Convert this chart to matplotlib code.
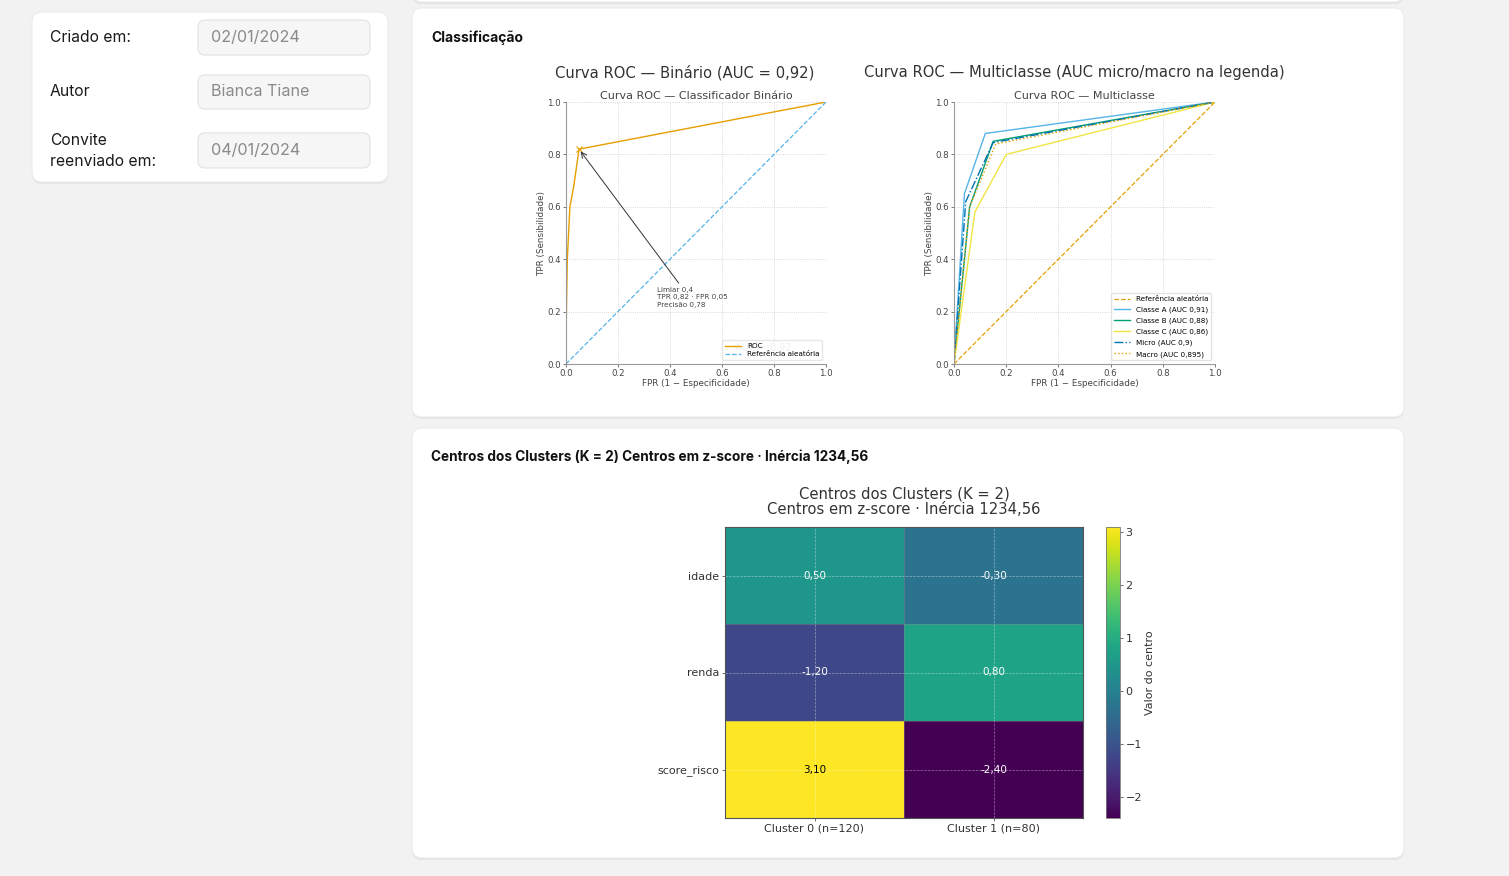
import numpy as np
import matplotlib.pyplot as plt
from matplotlib.patches import FancyBboxPatch

# ---- data ----
bin_fpr = [0.0, 0.0, 0.005, 0.015, 0.03, 0.05, 1.0]
bin_tpr = [0.0, 0.10, 0.40, 0.60, 0.68, 0.82, 1.0]
bin_auc = "0,92"

mc_names = ["Classe A (AUC 0,91)", "Classe B (AUC 0,88)", "Classe C (AUC 0,86)",
            "Micro (AUC 0,9)", "Macro (AUC 0,895)"]
mc_fpr = [[0.0, 0.04, 0.12, 1.0],
          [0.0, 0.06, 0.15, 1.0],
          [0.0, 0.08, 0.20, 1.0],
          [0.0, 0.045, 0.15, 1.0],
          [0.0, 0.06, 0.16, 1.0]]
mc_tpr = [[0.0, 0.65, 0.88, 1.0],
          [0.0, 0.60, 0.85, 1.0],
          [0.0, 0.58, 0.80, 1.0],
          [0.0, 0.62, 0.845, 1.0],
          [0.0, 0.60, 0.84, 1.0]]

features = ["idade", "renda", "score_risco"]
clusters = ["Cluster 0 (n=120)", "Cluster 1 (n=80)"]
centers = np.array([[0.50, -0.30],
                    [-1.20, 0.80],
                    [3.10, -2.40]])

field_labels = ["Criado em:", "Autor", "Convite\nreenviado em:"]
field_values = ["02/01/2024", "Bianca Tiane", "04/01/2024"]

# ---- figure / page background ----
W, H = 1509, 876
fig = plt.figure(figsize=(W / 100, H / 100), dpi=100, facecolor="#f2f2f2")
bg = fig.add_axes([0, 0, 1, 1])
bg.set_xlim(0, W)
bg.set_ylim(H, 0)
bg.axis("off")


def px_axes(x0, y0, x1, y1):
    return fig.add_axes([x0 / W, 1 - y1 / H, (x1 - x0) / W, (y1 - y0) / H])


def card(x0, y0, x1, y1, r=10):
    bg.add_patch(FancyBboxPatch((x0, y0 + 2), x1 - x0, y1 - y0,
                                boxstyle=f"round,pad=0,rounding_size={r}",
                                fc="#e4e4e4", ec="none"))
    bg.add_patch(FancyBboxPatch((x0, y0), x1 - x0, y1 - y0,
                                boxstyle=f"round,pad=0,rounding_size={r}",
                                fc="white", ec="#ebebeb", lw=0.8))


card(412, -30, 1404, 2)
card(32, 12, 388, 182)
card(412, 8, 1404, 417)
card(412, 428, 1404, 858)

# left info card
label_y = [38, 92, 151]
box_y = [(20, 55), (75, 109), (133, 168)]
for lab, val, ly, (b0, b1) in zip(field_labels, field_values, label_y, box_y):
    bg.text(50, ly, lab, fontsize=11.3, family="Inter", color="#1a1a1a",
            va="center", linespacing=1.45)
    bg.add_patch(FancyBboxPatch((198, b0), 172, b1 - b0,
                                boxstyle="round,pad=0,rounding_size=7",
                                fc="#f6f6f6", ec="#e2e2e2", lw=0.8))
    bg.text(211, (b0 + b1) / 2, val, fontsize=11.6, family="Inter",
            color="#8a8a8a", va="center")

# card headers
bg.text(431, 38, "Classificação", fontsize=10, family="Inter",
        weight="bold", color="#111", va="center")
bg.text(431, 457, "Centros dos Clusters (K = 2) Centros em z-score · Inércia 1234,56",
        fontsize=9.8, family="Inter", weight="bold", color="#111", va="center")

grey = "#444444"


def style_roc(ax):
    ax.set_xlim(0, 1)
    ax.set_ylim(0, 1)
    ax.grid(True, ls=":", lw=0.6, color="#cccccc")
    ax.set_xticks([0, 0.2, 0.4, 0.6, 0.8, 1.0])
    ax.set_yticks([0, 0.2, 0.4, 0.6, 0.8, 1.0])
    ax.tick_params(labelsize=6.2, colors=grey, length=2, width=0.5, pad=1.5)
    for s in ["top", "right"]:
        ax.spines[s].set_visible(False)
    for s in ["left", "bottom"]:
        ax.spines[s].set_color("#999999")
        ax.spines[s].set_linewidth(0.8)
    ax.set_xlabel("FPR (1 − Especificidade)", fontsize=6.3, color=grey, labelpad=1)
    ax.set_ylabel("TPR (Sensibilidade)", fontsize=6.3, color=grey, labelpad=1)


# ---- binary ROC ----
ax1 = px_axes(566, 102, 826, 364)
ax1.plot(bin_fpr, bin_tpr, color="#E69F00", lw=1.0, label="ROC")
ax1.plot([0, 1], [0, 1], color="#56B4E9", lw=0.9, ls="--", label="Referência aleatória")
ax1.plot(bin_fpr[5], bin_tpr[5], marker="x", color="#E69F00", ms=4, mew=0.8)
ax1.annotate("", xy=(bin_fpr[5], bin_tpr[5]), xytext=(0.44, 0.30),
             arrowprops=dict(arrowstyle="->", color="#333333", lw=0.7))
ax1.text(0.35, 0.295, "Limiar 0,4\nTPR 0,82 · FPR 0,05\nPrecisão 0,78",
         fontsize=5.2, color=grey, va="top", linespacing=1.3)
ax1.text(0.65, 0.06, f"AUC = {bin_auc}", fontsize=7, color="#c8c8c8",
         ha="left", va="center")
style_roc(ax1)
ax1.set_title("Curva ROC — Classificador Binário", fontsize=8, color=grey, pad=2)
ax1.legend(loc="lower right", fontsize=5.2, framealpha=0.7, edgecolor="#dddddd",
           borderpad=0.4, handlelength=2.2, labelspacing=0.3)
bg.text(685, 73, f"Curva ROC — Binário (AUC = {bin_auc})", fontsize=10.6,
        color="#333333", ha="center", va="center")

# ---- multiclass ROC ----
ax2 = px_axes(954, 102, 1215, 364)
ax2.plot([0, 1], [0, 1], color="#E69F00", lw=0.9, ls="--", label="Referência aleatória")
mc_colors = ["#56B4E9", "#009E73", "#F0E442", "#0072B2", "#E69F00"]
mc_styles = ["-", "-", "-", "-.", ":"]
for f, t, name, c, s in zip(mc_fpr, mc_tpr, mc_names, mc_colors, mc_styles):
    ax2.plot(f, t, color=c, ls=s, lw=1.0, label=name)
style_roc(ax2)
ax2.set_title("Curva ROC — Multiclasse", fontsize=8, color=grey, pad=2)
ax2.legend(loc="lower right", fontsize=5.2, framealpha=0.8, edgecolor="#dddddd",
           borderpad=0.4, handlelength=2.2, labelspacing=0.62)
bg.text(1074, 73, "Curva ROC — Multiclasse (AUC micro/macro na legenda)",
        fontsize=10.6, color="#333333", ha="center", va="center")

# ---- cluster centers heatmap ----
ax3 = px_axes(725, 527, 1083, 818)
vmin, vmax = centers.min(), centers.max()
im = ax3.imshow(centers, cmap="viridis", aspect="auto", vmin=vmin, vmax=vmax)
ax3.set_xticks(range(len(clusters)))
ax3.set_xticklabels(clusters)
ax3.set_yticks(range(len(features)))
ax3.set_yticklabels(features)
ax3.tick_params(labelsize=8, colors="#333333", length=2, width=0.5, pad=2)
ax3.grid(True, ls="--", lw=0.5, color="white", alpha=0.45)
for i in range(len(features)):
    for j in range(len(clusters)):
        v = centers[i, j]
        ax3.text(j, i, f"{v:.2f}".replace(".", ","), ha="center", va="center",
                 fontsize=7.5, color="black" if v > 2 else "white")
for k in range(len(features) - 1):
    ax3.axhline(k + 0.5, color="#888888", lw=0.6, alpha=0.5)
ax3.axvline(0.5, color="#888888", lw=0.6, alpha=0.5)
for s in ax3.spines.values():
    s.set_color("#555555")
    s.set_linewidth(0.8)
ax3.set_title("Centros dos Clusters (K = 2)\nCentros em z-score · Inércia 1234,56",
              fontsize=10.6, color="#333333", pad=9, linespacing=1.12)

cax = px_axes(1106, 527, 1120, 818)
cb = fig.colorbar(im, cax=cax)
cb.set_ticks([-2, -1, 0, 1, 2, 3])
cb.ax.tick_params(labelsize=8, colors="#333333", length=2, width=0.5, pad=2)
cb.set_label("Valor do centro", fontsize=8, color="#333333", labelpad=2)
cb.outline.set_edgecolor("#777777")
cb.outline.set_linewidth(0.6)

fig.savefig("out.png", dpi=100, facecolor=fig.get_facecolor())
